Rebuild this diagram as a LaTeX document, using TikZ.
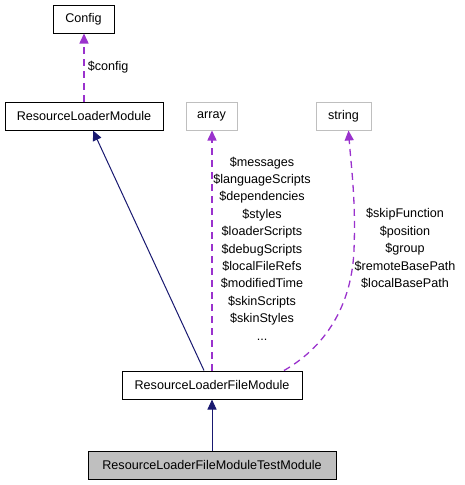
\documentclass[tikz,border=0pt]{standalone}
\usepackage{fontspec}
\setmainfont{Liberation Sans}
\usetikzlibrary{arrows.meta,calc}
\definecolor{edgepurple}{HTML}{9A32CD}
\definecolor{edgenavy}{HTML}{191970}
\definecolor{lightborder}{HTML}{BFBFBF}
\definecolor{grayfill}{HTML}{BFBFBF}
\tikzset{
  cls/.style={draw=black, line width=1pt, inner sep=0pt, minimum height=28pt, font=\fontsize{12.6}{15}\selectfont},
  ext/.style={cls, draw=lightborder},
  usage/.style={draw=edgepurple, line width=1.5pt, dash pattern=on 7pt off 5pt, -{Triangle[length=10pt,width=9pt]}},
  inherit/.style={draw=edgenavy, line width=1pt, {Triangle[length=10pt,width=9pt,fill=edgenavy]}-},
  lbl/.style={align=center, inner sep=0pt, font=\fontsize{12.6}{17.4}\selectfont}
}
\begin{document}
\begin{tikzpicture}[x=1pt,y=-1pt]
\useasboundingbox (0,0) rectangle (464,485);
\node[cls, minimum width=61pt] (config) at (83.5,19) {Config};
\node[cls, minimum width=158pt] (rlm) at (84,116) {ResourceLoaderModule};
\node[ext, minimum width=51pt] (array) at (211.5,116) {array};
\node[ext, minimum width=55pt] (string) at (343.5,116) {string};
\node[cls, minimum width=180pt] (fm) at (212,385) {ResourceLoaderFileModule};
\node[cls, fill=grayfill, minimum width=248pt] (test) at (212,465) {ResourceLoaderFileModuleTestModule};

\draw[usage] ([xshift=0.5pt]rlm.north -| config) -- node[lbl, right=3pt, pos=0.5] {\$config} ([xshift=0.5pt]config.south);
\draw[inherit] ([xshift=9pt]rlm.south) -- ([xshift=-8pt]fm.north);
\draw[usage] ([xshift=0.5pt]fm.north -| array) -- ([xshift=0.5pt]array.south);
\draw[usage, line width=1.3pt] ([xshift=72pt]fm.north) .. controls (330,344) and (352,300) .. (354,250) .. controls (356,200) and (351,165) .. ([xshift=5pt]string.south);
\draw[inherit] (fm.south) -- (test.north);

\node[lbl] (alabels) at (262,248.5) {\$messages\\\$languageScripts\\\$dependencies\\\$styles\\\$loaderScripts\\\$debugScripts\\\$localFileRefs\\\$modifiedTime\\\$skinScripts\\\$skinStyles\\...};
\node[lbl] (slabels) at (405,248.5) {\$skipFunction\\\$position\\\$group\\\$remoteBasePath\\\$localBasePath};
\end{tikzpicture}
\end{document}
